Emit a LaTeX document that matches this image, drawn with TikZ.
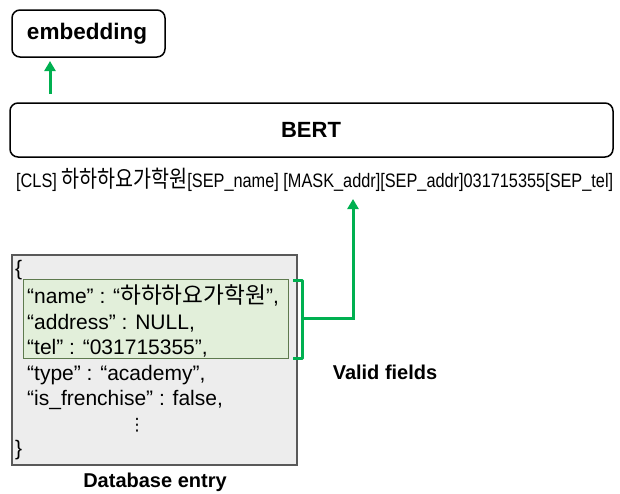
\documentclass[tikz,border=0pt]{standalone}
\usepackage{fontspec}
\usepackage{graphicx}
\setmainfont{Liberation Sans}
\newfontfamily\kr[Scale=1.08]{Noto Sans CJK KR}
\newfontfamily\krtok[Scale=1.2]{Noto Sans CJK KR}
\newfontfamily\dejavu{DejaVu Sans}
\usetikzlibrary{arrows.meta}
\definecolor{arrowgreen}{HTML}{00B050}
\definecolor{entrygray}{HTML}{EDEDED}
\definecolor{validfill}{HTML}{E2EFDA}
\definecolor{validdraw}{HTML}{5E7A4E}
\tikzset{
  roundbox/.style={draw=black, line width=1.5pt, rounded corners=8pt},
  boldlabel/.style={font=\fontsize{21}{25}\selectfont\bfseries, inner sep=0pt},
  jsonline/.style={anchor=base west, inner sep=0pt, font=\fontsize{21}{25}\selectfont},
  greenarrow/.style={draw=arrowgreen, line width=3pt, -{Triangle[width=11pt,length=10pt]}},
}
\begin{document}
\begin{tikzpicture}[x=1pt,y=-1pt]
\useasboundingbox (0,0) rectangle (620,493);
% embedding
\draw[roundbox] (12,10) rectangle (165,57);
\node[boldlabel, font=\fontsize{22.5}{26}\selectfont\bfseries] (emb) at (87,34) {embedding};
\coordinate (embarrowstart) at (50,94);
\coordinate (embarrowtip) at (50,61);
\draw[greenarrow] (embarrowstart) -- (embarrowtip);
% BERT
\draw[roundbox] (10,103) rectangle (613,157);
\node[boldlabel, font=\fontsize{22}{26}\selectfont\bfseries] (bert) at (311,130) {BERT};
% token line
\node[anchor=west, inner sep=0pt, font=\fontsize{19.5}{22}\selectfont] (tokens) at (16,180)
  {\resizebox{597pt}{\height}{[CLS] {\krtok 하하하요가학원}[SEP\_name] [MASK\_addr][SEP\_addr]031715355[SEP\_tel]}};
% database entry
\draw[draw=black!65, fill=entrygray, line width=1.2pt] (12,255) rectangle (297,465);
\draw[draw=validdraw, fill=validfill, line width=0.8pt] (23,279) rectangle (288,358);
\node[anchor=west, inner sep=0pt, font=\fontsize{21}{25}\selectfont] (lbrace) at (15,270) {\{};
\node[jsonline] (l1) at (27,303) {“name” : “{\kr 하하하요가학원}”,};
\node[jsonline] (l2) at (27,329) {“address” : NULL,};
\node[jsonline] (l3) at (27,354) {“tel” : “031715355”,};
\node[jsonline] (l4) at (27,380) {“type” : “academy”,};
\node[jsonline] (l5) at (27,405) {“is\_frenchise” : false,};
\node[inner sep=0pt, font=\dejavu\fontsize{17}{20}\selectfont] (dots) at (137,425) {⋮};
\node[anchor=west, inner sep=0pt, font=\fontsize{21}{25}\selectfont] (rbrace) at (15,450) {\}};
\node[boldlabel, font=\fontsize{20}{24}\selectfont\bfseries] (dblabel) at (155,482) {Database entry};
% bracket and arrow
\draw[draw=arrowgreen, line width=3pt, line join=round] (293,280) -- (302,280) -- (302,358) -- (293,358);
\coordinate (brmid) at (302,318);
\coordinate (corner) at (353,318);
\coordinate (arrowtip) at (353,199);
\draw[greenarrow] (brmid) -- (corner) -- (arrowtip);
\node[boldlabel, font=\fontsize{20}{24}\selectfont\bfseries] (valid) at (385,372) {Valid fields};
\end{tikzpicture}
\end{document}
